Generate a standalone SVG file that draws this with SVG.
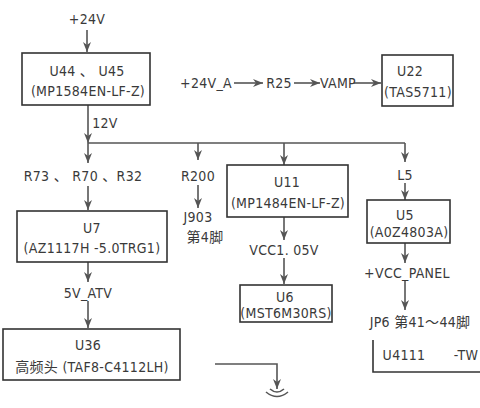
<svg xmlns="http://www.w3.org/2000/svg" width="480" height="408" viewBox="0 0 480 408">
<style>
  .box{fill:#fff;stroke:#333;stroke-width:1.6}
  .t{font-family:"DejaVu Sans Condensed","DejaVu Sans","Noto Sans CJK SC",sans-serif;font-size:14px;letter-spacing:0.3px;fill:#3a3a3a;text-anchor:middle}
  .c{fill:none;stroke:#555;stroke-width:1.6}
</style>
<defs>
  <marker id="ah" markerUnits="userSpaceOnUse" markerWidth="10" markerHeight="10" viewBox="0 0 10 10" refX="10" refY="5" orient="auto">
    <path d="M0,1 L10,5 L0,9 L3,5 Z" fill="#555"/>
  </marker>
</defs>
<rect width="480" height="408" fill="#fff"/>

<g id="connectors">
  <path class="c" d="M87,30 V52" marker-end="url(#ah)"/>
  <path class="c" d="M88,105 V143" marker-end="url(#ah)"/>
  <path class="c" d="M88,143 H405"/>
  <path class="c" d="M88,143 V163" marker-end="url(#ah)"/>
  <path class="c" d="M198,143 V160" marker-end="url(#ah)"/>
  <path class="c" d="M284,143 V165" marker-end="url(#ah)"/>
  <path class="c" d="M405,143 V162" marker-end="url(#ah)"/>
  <path class="c" d="M88,186 V210" marker-end="url(#ah)"/>
  <path class="c" d="M198,185 V208" marker-end="url(#ah)"/>
  <path class="c" d="M88,262 V282" marker-end="url(#ah)"/>
  <path class="c" d="M88,301 V328" marker-end="url(#ah)"/>
  <path class="c" d="M284,217 V240" marker-end="url(#ah)"/>
  <path class="c" d="M284,258 V284" marker-end="url(#ah)"/>
  <path class="c" d="M405,183 V200" marker-end="url(#ah)"/>
  <path class="c" d="M405,243 V263" marker-end="url(#ah)"/>
  <path class="c" d="M405,281 V310" marker-end="url(#ah)"/>
  <path class="c" d="M234,83 H263" marker-end="url(#ah)"/>
  <path class="c" d="M294,83 H320" marker-end="url(#ah)"/>
  <path class="c" d="M354,83 H381" marker-end="url(#ah)"/>
  <path class="c" d="M215,364 H277 V389" marker-end="url(#ah)"/>
  <path class="c" d="M266,392 Q277,401 288,392"/>
  <path class="c" d="M270,389 Q277,395 284,389"/>
</g>

<g id="labels">
  <text class="t" x="87" y="24">+24V</text>
  <text class="t" x="105" y="128">12V</text>
  <text class="t" x="83" y="181">R73 、 R70 、R32</text>
  <text class="t" x="198" y="181">R200</text>
  <text class="t" x="198" y="222">J903</text>
  <text class="t" x="205" y="242">第4脚</text>
  <text class="t" x="88" y="298">5V_ATV</text>
  <text class="t" x="284" y="255">VCC1. 05V</text>
  <text class="t" x="405" y="180">L5</text>
  <text class="t" x="407" y="278">+VCC_PANEL</text>
  <text class="t" x="420" y="327">JP6 第41～44脚</text>
  <text class="t" x="206" y="88">+24V_A</text>
  <text class="t" x="279" y="88">R25</text>
  <text class="t" x="338" y="88">VAMP</text>
</g>

<g id="U44">
  <rect class="box" x="22" y="53" width="128" height="52"/>
  <text class="t" x="87" y="76">U44 、 U45</text>
  <text class="t" x="88" y="96">(MP1584EN-LF-Z)</text>
</g>
<g id="U22">
  <rect class="box" x="382" y="55" width="71" height="51"/>
  <text class="t" x="410" y="76">U22</text>
  <text class="t" x="418" y="97">(TAS5711)</text>
</g>
<g id="U7">
  <rect class="box" x="17" y="211" width="150" height="51"/>
  <text class="t" x="92" y="233">U7</text>
  <text class="t" x="92" y="253">(AZ1117H -5.0TRG1)</text>
</g>
<g id="U11">
  <rect class="box" x="227" y="165" width="121" height="52"/>
  <text class="t" x="287" y="187">U11</text>
  <text class="t" x="288" y="208">(MP1484EN-LF-Z)</text>
</g>
<g id="U5">
  <rect class="box" x="367" y="200" width="83" height="43"/>
  <text class="t" x="405" y="220">U5</text>
  <text class="t" x="409" y="237">(A0Z4803A)</text>
</g>
<g id="U6">
  <rect class="box" x="240" y="285" width="92" height="37"/>
  <text class="t" x="285" y="302">U6</text>
  <text class="t" x="286" y="318">(MST6M30RS)</text>
</g>
<g id="U36">
  <rect class="box" x="3" y="329" width="177" height="51"/>
  <text class="t" x="88" y="350">U36</text>
  <text class="t" x="92" y="372">高频头 (TAF8-C4112LH)</text>
</g>
<g id="U4111">
  <path class="box" d="M373,340 V372 H482" style="fill:none"/>
  <text class="t" x="404" y="360">U4111</text>
  <text class="t" x="466" y="360">-TW</text>
</g>
</svg>
